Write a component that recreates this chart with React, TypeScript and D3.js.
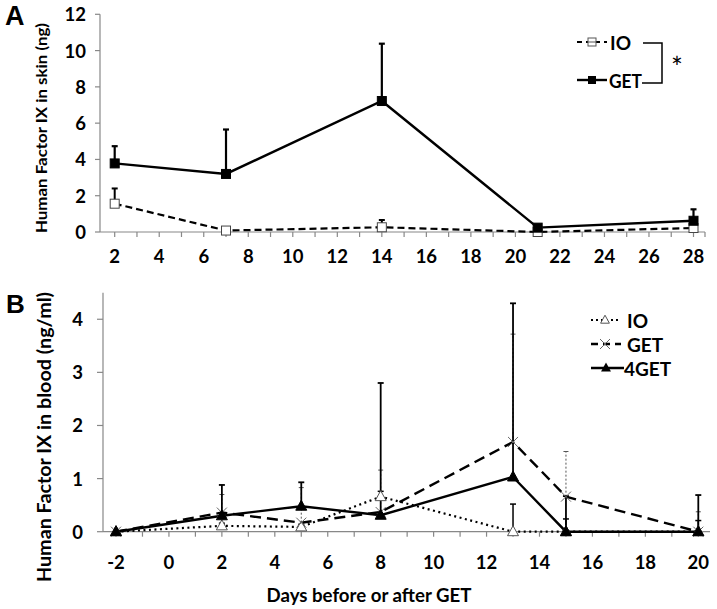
import React from "react";
import * as d3 from "d3";

// Panel A data (skin)
const daysA = [2, 7, 14, 21, 28];
const getA = [3.78, 3.2, 7.22, 0.24, 0.62];
const getAErr = [0.95, 2.45, 3.16, 0.12, 0.63];
const ioA = [1.56, 0.08, 0.26, 0.0, 0.22];
const ioAErr = [0.84, 0.0, 0.4, 0.0, 0.0];
const yTicksA = [0, 2, 4, 6, 8, 10, 12];
const xLabelsA = [2, 4, 6, 8, 10, 12, 14, 16, 18, 20, 22, 24, 26, 28];

// Panel B data (blood)
const daysB = [-2, 2, 5, 8, 13, 15, 20];
const ioB = [0, 0.11, 0.09, 0.66, 0, 0, 0];
const ioBErr = [0, 0.05, 0.05, 0.1, 0.52, 0.24, 0.21];
const getB = [0, 0.36, 0.17, 0.37, 1.69, 0.66, 0.0];
const getBErr = [0, 0.34, 0.66, 0.79, 2.03, 0.85, 0.375];
const get4B = [0, 0.3, 0.48, 0.31, 1.03, 0, 0];
const get4BErr = [0, 0.58, 0.45, 2.49, 3.27, 0.67, 0.69];
const yTicksB = [0, 1, 2, 3, 4];
const xLabelsB = [-2, 0, 2, 4, 6, 8, 10, 12, 14, 16, 18, 20];

const FONT = "Lato, 'Open Sans', sans-serif";
const TICK = 18.5;

export default function App() {
  const xA = d3.scaleLinear().domain([2, 28]).range([114.7, 693.5]);
  const yA = d3.scaleLinear().domain([0, 12]).range([232, 14.3]);
  const xB = d3.scaleLinear().domain([-2, 20]).range([116, 698.3]);
  const yB = d3.scaleLinear().domain([0, 4.5]).range([531.7, 292.7]);

  const lineA = (vals: number[]) =>
    d3.line<number>().x((_, i) => xA(daysA[i])).y((v) => yA(v))(vals) || "";
  const lineB = (vals: number[]) =>
    d3.line<number>().x((_, i) => xB(daysB[i])).y((v) => yB(v))(vals) || "";

  const minorA = d3.range(2, 29);
  const minorB = d3.range(-2, 21);

  const errBars = (
    days: number[],
    vals: number[],
    errs: number[],
    x: (v: number) => number,
    y: (v: number) => number,
    style: { sw: number; dash?: string; color?: string; cap?: number },
    key: string
  ) =>
    days.map((d, i) =>
      errs[i] > 0 ? (
        <g key={key + i} stroke={style.color || "#000"} strokeWidth={style.sw}>
          <line x1={x(d)} x2={x(d)} y1={y(vals[i])} y2={y(vals[i] + errs[i])} strokeDasharray={style.dash} />
          <line
            x1={x(d) - (style.cap ?? 3)}
            x2={x(d) + (style.cap ?? 3)}
            y1={y(vals[i] + errs[i])}
            y2={y(vals[i] + errs[i])}
          />
        </g>
      ) : null
    );

  const tri = (cx: number, cy: number, s: number) =>
    `M${cx},${cy - s * 0.6} L${cx + s * 0.55},${cy + s * 0.4} L${cx - s * 0.55},${cy + s * 0.4} Z`;

  return (
    <svg width={717} height={609} style={{ display: "block", position: "absolute", left: 0, top: 0 }}>
      <rect width={717} height={609} fill="#fff" />
      {/* ---------------- Panel A ---------------- */}
      <text x={5} y={25} fontFamily="'Liberation Sans', Arial, sans-serif" fontWeight="bold" fontSize={27}>A</text>
      <text
        transform="translate(41,128) rotate(-90)"
        textAnchor="middle"
        dominantBaseline="central"
        fontFamily={FONT}
        fontWeight="bold"
        fontSize={15.5}
        textLength={210}
        lengthAdjust="spacingAndGlyphs"
      >
        Human Factor IX in skin (ng)
      </text>
      {/* axes */}
      <line x1={100} x2={100} y1={yA(12)} y2={yA(0)} stroke="#888" strokeWidth={1.2} />
      <line x1={100} x2={705} y1={yA(0)} y2={yA(0)} stroke="#888" strokeWidth={1.2} />
      {yTicksA.map((t) => (
        <g key={"ya" + t}>
          <line x1={95} x2={100} y1={yA(t)} y2={yA(t)} stroke="#888" strokeWidth={1.2} />
          <text x={86} y={yA(t)} textAnchor="end" dominantBaseline="central" fontFamily={FONT} fontWeight="bold" fontSize={TICK}>
            {t}
          </text>
        </g>
      ))}
      {minorA.map((t) => (
        <line key={"xa" + t} x1={xA(t)} x2={xA(t)} y1={yA(0)} y2={yA(0) + 5} stroke="#888" strokeWidth={1.2} />
      ))}
      <line x1={705} x2={705} y1={yA(0)} y2={yA(0) + 5} stroke="#888" strokeWidth={1.2} />
      {xLabelsA.map((t) => (
        <text key={"xla" + t} x={xA(t)} y={yA(0) + 24} textAnchor="middle" dominantBaseline="central" fontFamily={FONT} fontWeight="bold" fontSize={TICK}>
          {t}
        </text>
      ))}
      {/* error bars */}
      {errBars(daysA, getA, getAErr, xA, yA, { sw: 2.2, cap: 3 }, "ega")}
      {errBars(daysA, ioA, ioAErr, xA, yA, { sw: 2, cap: 3 }, "eia")}
      {/* lines */}
      <path d={lineA(ioA)} fill="none" stroke="#000" strokeWidth={2.2} strokeDasharray="7,4" />
      <path d={lineA(getA)} fill="none" stroke="#000" strokeWidth={2.4} />
      {daysA.map((d, i) => (
        <rect key={"ia" + i} x={xA(d) - 4.5} y={yA(ioA[i]) - 4.5} width={9} height={9} fill="#fff" stroke="#444" strokeWidth={1} />
      ))}
      {daysA.map((d, i) => (
        <rect key={"ga" + i} x={xA(d) - 4.5} y={yA(getA[i]) - 4.5} width={9} height={9} fill="#000" stroke="#000" strokeWidth={1} />
      ))}
      {/* legend A */}
      <line x1={577} x2={607} y1={42} y2={42} stroke="#000" strokeWidth={2} strokeDasharray="5,4" />
      <rect x={588} y={38} width={8} height={8} fill="#fff" stroke="#555" strokeWidth={1} />
      <line x1={588} x2={596} y1={42} y2={42} stroke="#555" strokeWidth={1} />
      <text x={610} y={42} dominantBaseline="central" fontFamily={FONT} fontWeight="bold" fontSize={19}>IO</text>
      <line x1={577} x2={607} y1={80} y2={80} stroke="#000" strokeWidth={2.4} />
      <rect x={588} y={76} width={8} height={8} fill="#000" />
      <text x={609} y={80} dominantBaseline="central" fontFamily={FONT} fontWeight="bold" fontSize={19} textLength={33} lengthAdjust="spacingAndGlyphs">GET</text>
      <path d="M643,43 H662 V83 H642" fill="none" stroke="#000" strokeWidth={1.5} />
      <text x={677} y={67} textAnchor="middle" dominantBaseline="central" fontFamily={FONT} fontSize={28}>*</text>

      {/* ---------------- Panel B ---------------- */}
      <text x={6} y={313} fontFamily="'Liberation Sans', Arial, sans-serif" fontWeight="bold" fontSize={26}>B</text>
      <text
        transform="translate(44,437) rotate(-90)"
        textAnchor="middle"
        dominantBaseline="central"
        fontFamily={FONT}
        fontWeight="bold"
        fontSize={18}
        textLength={290}
        lengthAdjust="spacingAndGlyphs"
      >
        Human Factor IX in blood (ng/ml)
      </text>
      <line x1={103} x2={103} y1={yB(4.5)} y2={yB(0)} stroke="#888" strokeWidth={1.2} />
      <line x1={103} x2={710} y1={yB(0)} y2={yB(0)} stroke="#888" strokeWidth={1.2} />
      {yTicksB.map((t) => (
        <g key={"yb" + t}>
          <line x1={97} x2={103} y1={yB(t)} y2={yB(t)} stroke="#888" strokeWidth={1.2} />
          <text x={83} y={yB(t)} textAnchor="end" dominantBaseline="central" fontFamily={FONT} fontWeight="bold" fontSize={TICK}>
            {t}
          </text>
        </g>
      ))}
      {minorB.map((t) => (
        <line key={"xb" + t} x1={xB(t)} x2={xB(t)} y1={yB(0)} y2={yB(0) + 5} stroke="#888" strokeWidth={1.2} />
      ))}
      {xLabelsB.map((t) => (
        <text key={"xlb" + t} x={xB(t)} y={yB(0) + 30} textAnchor="middle" dominantBaseline="central" fontFamily={FONT} fontWeight="bold" fontSize={TICK}>
          {t}
        </text>
      ))}
      <text x={369} y={595} textAnchor="middle" dominantBaseline="central" fontFamily={FONT} fontWeight="bold" fontSize={18.5} textLength={205} lengthAdjust="spacingAndGlyphs">
        Days before or after GET
      </text>
      {/* error bars */}
      {errBars(daysB, getB, getBErr, xB, yB, { sw: 1, dash: "2,2", color: "#555", cap: 2.5 }, "egb")}
      {errBars(daysB, ioB, ioBErr, xB, yB, { sw: 1.5, cap: 3 }, "eib")}
      {errBars(daysB, get4B, get4BErr, xB, yB, { sw: 1.8, cap: 3 }, "e4b")}
      {/* lines */}
      <path d={lineB(ioB)} fill="none" stroke="#000" strokeWidth={2.2} strokeDasharray="2,3.5" />
      <path d={lineB(getB)} fill="none" stroke="#000" strokeWidth={2.4} strokeDasharray="11,6" />
      <path d={lineB(get4B)} fill="none" stroke="#000" strokeWidth={2.4} />
      {daysB.map((d, i) => (
        <path key={"ib" + i} d={tri(xB(d), yB(ioB[i]), 10)} fill="#fff" stroke="#555" strokeWidth={1} />
      ))}
      {daysB.map((d, i) => (
        <path
          key={"gb" + i}
          d={`M${xB(d) - 5},${yB(getB[i]) - 5} L${xB(d) + 5},${yB(getB[i]) + 5} M${xB(d) - 5},${yB(getB[i]) + 5} L${xB(d) + 5},${yB(getB[i]) - 5}`}
          stroke="#666"
          strokeWidth={1}
          fill="none"
        />
      ))}
      {daysB.map((d, i) => (
        <path key={"4b" + i} d={tri(xB(d), yB(get4B[i]), 10)} fill="#000" stroke="#000" strokeWidth={1} />
      ))}
      {/* legend B */}
      <line x1={591} x2={621} y1={320} y2={320} stroke="#000" strokeWidth={2} strokeDasharray="2,3" />
      <path d={tri(605, 320, 8)} fill="#fff" stroke="#555" strokeWidth={1} />
      <text x={627} y={320} dominantBaseline="central" fontFamily={FONT} fontWeight="bold" fontSize={19}>IO</text>
      <line x1={591} x2={621} y1={344} y2={344} stroke="#000" strokeWidth={2.4} strokeDasharray="7,5" />
      <path d="M600,339 L610,349 M600,349 L610,339" stroke="#666" strokeWidth={1} />
      <text x={627} y={344} dominantBaseline="central" fontFamily={FONT} fontWeight="bold" fontSize={19}>GET</text>
      <line x1={591} x2={624} y1={368} y2={368} stroke="#000" strokeWidth={2.4} />
      <path d={tri(606, 368, 9)} fill="#000" />
      <text x={624} y={368} dominantBaseline="central" fontFamily={FONT} fontWeight="bold" fontSize={19}>4GET</text>
    </svg>
  );
}
